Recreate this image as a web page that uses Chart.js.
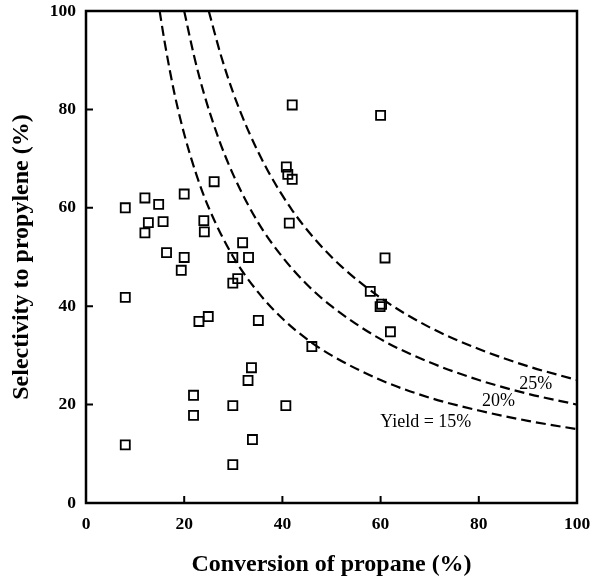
<!DOCTYPE html>
<html>
<head>
<meta charset="utf-8">
<script src="https://cdn.jsdelivr.net/npm/chart.js@4/dist/chart.umd.min.js"></script>
<style>
  body { margin: 0; background: #fff; }
  #wrap { width: 592px; height: 581px; }
</style>
</head>
<body>
<div id="wrap"><canvas id="chart" width="592" height="581"></canvas></div>
<script>
// measured points: conversion (%) vs selectivity (%)
const convX = [8, 8, 8, 12, 12, 12.7, 14.8, 15.7, 16.4, 19.4, 20, 20, 26.1, 24, 24.1,
  23, 24.9, 21.9, 21.9, 29.9, 29.9, 30.9, 31.9, 33.1, 29.9, 29.9, 33, 33.7, 33.9, 35.1,
  42, 40.8, 41.1, 42, 41.4, 40.7, 46, 57.9, 59.9, 60.2, 60, 60.9, 62];
const selY = [60, 41.8, 11.8, 62, 54.9, 57, 60.7, 57.2, 50.9, 47.3, 49.9, 62.8, 65.3, 57.4, 55.1,
  36.9, 37.9, 21.9, 17.8, 49.9, 44.7, 45.6, 52.9, 49.9, 19.8, 7.8, 24.9, 27.5, 12.9, 37.1,
  80.9, 68.3, 66.8, 65.8, 56.9, 19.8, 31.8, 43, 39.9, 40.4, 78.8, 49.8, 34.8];

// iso-yield curves
const y15X = [15, 16, 18, 20, 22.5, 25, 30, 35, 40, 45, 50, 60, 70, 80, 90, 100];
const y15Y = [100, 93.8, 83.3, 75, 66.7, 60, 50, 42.9, 37.5, 33.3, 30, 25, 21.4, 18.8, 16.7, 15];
const y20X = [20, 22, 24, 27, 30, 35, 40, 45, 50, 60, 70, 80, 90, 100];
const y20Y = [100, 90.9, 83.3, 74.1, 66.7, 57.1, 50, 44.4, 40, 33.3, 28.6, 25, 22.2, 20];
const y25X = [25, 27.5, 30, 33, 37, 42, 47, 52, 60, 70, 80, 90, 100];
const y25Y = [100, 90.9, 83.3, 75.8, 67.6, 59.5, 53.2, 48.1, 41.7, 35.7, 31.3, 27.8, 25];

const tickVals = [0, 20, 40, 60, 80, 100];

function pts(xs, ys) {
  return xs.map((x, i) => ({ x: x, y: ys[i] }));
}

function curve(xs, ys) {
  return {
    data: pts(xs, ys),
    showLine: true,
    borderColor: '#000',
    borderWidth: 2.2,
    borderDash: [10, 5],
    pointRadius: 0,
    cubicInterpolationMode: 'monotone',
    fill: false
  };
}

// keep the plot box where the original has it
function noPad(s) {
  s.paddingLeft = 0; s.paddingRight = 0; s.paddingTop = 0; s.paddingBottom = 0;
}

// frame + inward ticks + curve labels
const framePlugin = {
  id: 'frame',
  afterDraw(chart) {
    const ctx = chart.ctx;
    const a = chart.chartArea;
    const sx = chart.scales.x, sy = chart.scales.y;
    ctx.save();
    ctx.strokeStyle = '#000';
    ctx.lineWidth = 2.5;
    ctx.strokeRect(a.left, a.top, a.right - a.left, a.bottom - a.top);
    ctx.lineWidth = 2;
    ctx.beginPath();
    tickVals.forEach(v => {
      const px = sx.getPixelForValue(v);
      ctx.moveTo(px, a.bottom);
      ctx.lineTo(px, a.bottom - 7);
      const py = sy.getPixelForValue(v);
      ctx.moveTo(a.left, py);
      ctx.lineTo(a.left + 7, py);
    });
    ctx.stroke();

    ctx.fillStyle = '#000';
    ctx.font = '18px "Liberation Serif", serif';
    ctx.textAlign = 'center';
    ctx.textBaseline = 'middle';
    ctx.fillText('Yield = 15%', sx.getPixelForValue(69.2), sy.getPixelForValue(16.4));
    ctx.fillText('20%', sx.getPixelForValue(84), sy.getPixelForValue(20.6));
    ctx.fillText('25%', sx.getPixelForValue(91.6), sy.getPixelForValue(24.2));
    ctx.restore();
  }
};

new Chart(document.getElementById('chart'), {
  type: 'scatter',
  data: {
    datasets: [
      {
        data: pts(convX, selY),
        pointStyle: 'rect',
        pointRadius: 6.4,
        pointBorderWidth: 1.8,
        pointBorderColor: '#000',
        pointBackgroundColor: 'rgba(255,255,255,0)'
      },
      curve(y15X, y15Y),
      curve(y20X, y20Y),
      curve(y25X, y25Y)
    ]
  },
  options: {
    responsive: false,
    animation: false,
    layout: { padding: { top: 11, right: 15, left: 0, bottom: 0 } },
    plugins: { legend: { display: false }, tooltip: { enabled: false } },
    scales: {
      x: {
        type: 'linear',
        min: 0, max: 100,
        afterFit: s => { s.height = 78; noPad(s); },
        grid: { display: false, drawTicks: false },
        border: { display: false },
        ticks: {
          stepSize: 20,
          color: '#000',
          padding: 11,
          font: { family: '"Liberation Serif", serif', size: 17.5, weight: 'bold' }
        },
        title: {
          display: true,
          text: 'Conversion of propane (%)',
          color: '#000',
          padding: { top: 0, bottom: 2 },
          font: { family: '"Liberation Serif", serif', size: 24, weight: 'bold' }
        }
      },
      y: {
        type: 'linear',
        min: 0, max: 100,
        afterFit: s => { s.width = 86; noPad(s); },
        grid: { display: false, drawTicks: false },
        border: { display: false },
        ticks: {
          stepSize: 20,
          color: '#000',
          padding: 10,
          font: { family: '"Liberation Serif", serif', size: 17.5, weight: 'bold' }
        },
        title: {
          display: true,
          text: 'Selectivity to propylene (%)',
          color: '#000',
          padding: { top: 7, bottom: 0 },
          font: { family: '"Liberation Serif", serif', size: 24, weight: 'bold' }
        }
      }
    }
  },
  plugins: [framePlugin]
});
</script>
</body>
</html>
